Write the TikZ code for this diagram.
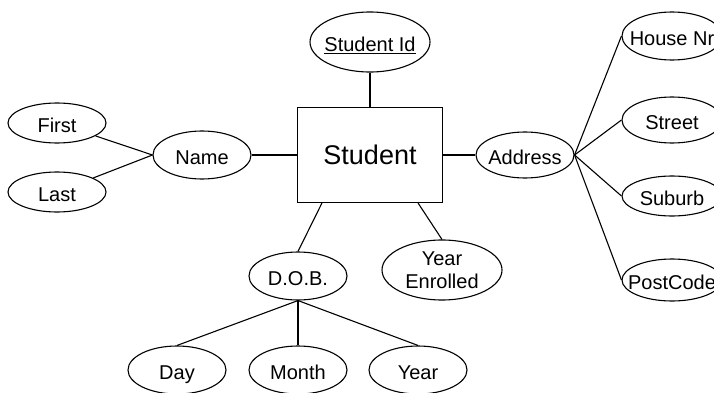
\documentclass[tikz,border=0pt]{standalone}
\usepackage{fontspec}
\setmainfont{Liberation Sans}
\usetikzlibrary{shapes.geometric}

% label that does not widen its ellipse
\newcommand{\attrlabel}[1]{\makebox[0pt]{#1}}

\begin{document}
\begin{tikzpicture}[
    x=1pt, y=-1pt,
    line width=1.1pt,
    entity/.style={rectangle, draw, minimum width=145pt, minimum height=95pt, inner sep=0pt, font=\fontsize{27}{32}\selectfont},
    attr/.style={ellipse, draw, inner sep=0pt, minimum width=98pt, minimum height=#1, text height=19pt, text depth=0pt, font=\fontsize{20}{23}\selectfont},
    attr/.default=44pt,
    bigattr/.style={attr=60pt, minimum width=120pt, align=center},
]
\clip (0,0) rectangle (714,393);

% ---- Entity ----
\node[entity] (student) at (370,155) {Student};

% ---- Key and simple attributes ----
\node[bigattr] (sid) at (370,42) {\attrlabel{\underline{Student Id}}};
\node[bigattr, text height=, text depth=] (yenr) at (442,270) {Year\\Enrolled};

% ---- Name ----
\node[attr=48pt] (name) at (202,155) {\attrlabel{Name}};
\node[attr=40pt] (first) at (57,123) {\attrlabel{First}};
\node[attr=40pt] (last) at (57,192) {\attrlabel{Last}};

% ---- Address ----
\node[attr=46pt] (address) at (525,155) {\attrlabel{Address}};
\node[attr=48pt, minimum width=100pt] (housenr) at (672,36) {\attrlabel{House Nr}};
\node[attr=46pt, minimum width=100pt] (street) at (672,120) {\attrlabel{Street}};
\node[attr=40pt, minimum width=100pt] (suburb) at (672,196) {\attrlabel{Suburb}};
\node[attr=42pt, minimum width=100pt] (postcode) at (672,280) {\attrlabel{PostCode}};

% ---- D.O.B. ----
\node[attr=48pt] (dob) at (298,276) {\attrlabel{D.O.B.}};
\node[attr=48pt] (day) at (177,370) {\attrlabel{Day}};
\node[attr=48pt] (month) at (298,370) {\attrlabel{Month}};
\node[attr=48pt] (year) at (418,370) {\attrlabel{Year}};

% ---- Links to the entity ----
\draw (sid) -- (student);
\draw (name) -- (student);
\draw (student) -- (address);
\draw (student.225) -- (dob.north);
\draw (student.-45) -- (yenr.north);

% ---- Composite parts ----
\draw (first) -- (name.west);
\draw (last) -- (name.west);
\draw (address.east) -- (housenr.west);
\draw (address.east) -- (street.west);
\draw (address.east) -- (suburb.west);
\draw (address.east) -- (postcode.west);
\draw (dob.south) -- (day.north);
\draw (dob.south) -- (month.north);
\draw (dob.south) -- (year.north);

\end{tikzpicture}
\end{document}
